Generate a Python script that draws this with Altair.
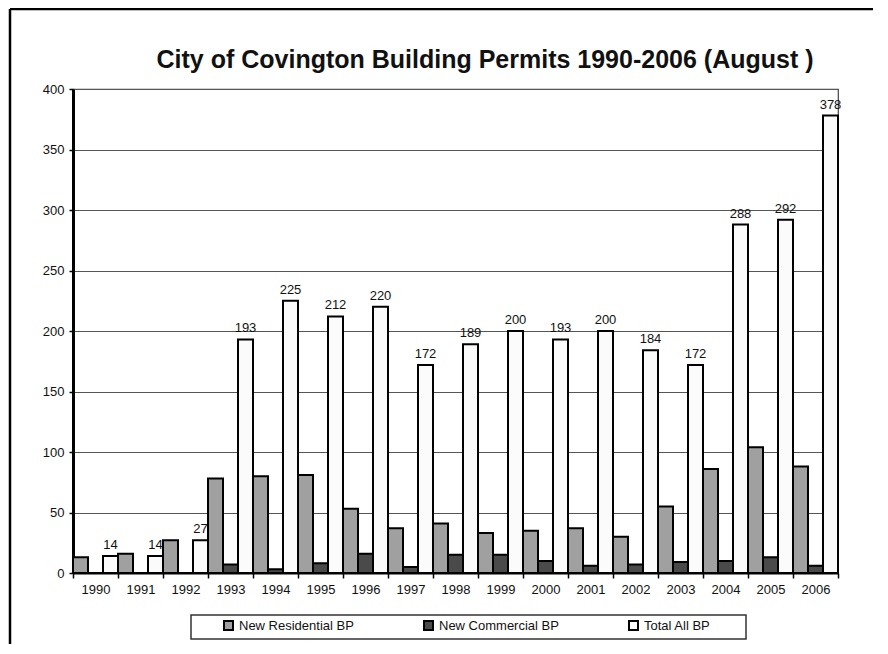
import altair as alt
import pandas as pd

years = ["1990", "1991", "1992", "1993", "1994", "1995", "1996", "1997", "1998",
         "1999", "2000", "2001", "2002", "2003", "2004", "2005", "2006"]
residential = [13, 16, 27, 78, 80, 81, 53, 37, 41, 33, 35, 37, 30, 55, 86, 104, 88]
commercial = [0, 0, 0, 7, 3, 8, 16, 5, 15, 15, 10, 6, 7, 9, 10, 13, 6]
total = [14, 14, 27, 193, 225, 212, 220, 172, 189, 200, 193, 200, 184, 172, 288, 292, 378]

series_names = ["New Residential BP", "New Commercial BP", "Total All BP"]
series_colors = ["#a0a0a0", "#4a4a4a", "#fbfbfb"]
y_ticks = [0, 50, 100, 150, 200, 250, 300, 350, 400]
title_text = "City of Covington Building Permits 1990-2006 (August )"

rows = []
for i, yr in enumerate(years):
    for name, vals in zip(series_names, [residential, commercial, total]):
        rows.append({"year": yr, "series": name, "value": vals[i]})
df = pd.DataFrame(rows)
one = pd.DataFrame({"k": [0]})

FONT = "Liberation Sans"

x_enc = alt.X(
    "year:N", sort=years,
    scale=alt.Scale(paddingInner=0, paddingOuter=0),
    axis=alt.Axis(title=None, labelAngle=0, tickBand="extent", domainColor="black",
                  domainWidth=2, tickColor="black", tickWidth=1.5, tickSize=5,
                  labelPadding=5, labelFontSize=13, labelColor="#111", grid=False),
)
xoff = alt.XOffset("series:N", sort=series_names,
                   scale=alt.Scale(domain=series_names, paddingInner=0, paddingOuter=0))
y_enc = alt.Y(
    "value:Q",
    scale=alt.Scale(domain=[0, 400], nice=False),
    axis=alt.Axis(title=None, values=y_ticks, domainColor="black", domainWidth=3,
                  tickColor="black", tickWidth=1.5, tickSize=4, labelPadding=5,
                  labelFontSize=13, labelColor="#111", grid=True, gridColor="#555",
                  gridWidth=1.2),
)

bars = alt.Chart(df).mark_bar(stroke="black", strokeWidth=2).encode(
    x=x_enc, xOffset=xoff, y=y_enc,
    color=alt.Color(
        "series:N", sort=series_names,
        scale=alt.Scale(domain=series_names, range=series_colors),
        legend=alt.Legend(title=None, orient="none", legendX=149, legendY=530,
                          direction="horizontal", symbolType="square", symbolSize=81,
                          symbolStrokeColor="black", symbolStrokeWidth=2,
                          labelFontSize=13, labelFont=FONT, labelColor="#111",
                          columnPadding=66, labelOffset=4, padding=0),
    ),
)

labels = alt.Chart(df).transform_filter(alt.datum.series == "Total All BP").mark_text(
    dy=-7, fontSize=13, font=FONT, color="#111", baseline="alphabetic"
).encode(x=x_enc, xOffset=xoff, y=alt.Y("value:Q"), text="value:Q")

title_mark = alt.Chart(one).mark_text(
    fontSize=25, font=FONT, fontWeight="bold", color="#111", align="center",
    baseline="alphabetic"
).encode(x=alt.value(412), y=alt.value(-21), text=alt.value(title_text))

legend_box = alt.Chart(one).mark_rect(filled=False, stroke="#333", strokeWidth=1.5).encode(
    x=alt.value(118), x2=alt.value(673), y=alt.value(526), y2=alt.value(550)
)
frame_left = alt.Chart(one).mark_rule(color="black", strokeWidth=2.5).encode(
    x=alt.value(-63), y=alt.value(-80), y2=alt.value(560)
)
frame_top = alt.Chart(one).mark_rule(color="black", strokeWidth=2.5).encode(
    x=alt.value(-63), x2=alt.value(800), y=alt.value(-80)
)

chart = alt.layer(frame_left, frame_top, title_mark, legend_box, bars, labels).properties(
    width=765, height=484,
    autosize=alt.AutoSizeParams(type="none"),
    padding={"left": 65, "top": 81, "right": 42, "bottom": 71},
    background="white",
).configure_view(stroke="#444", strokeWidth=1.2).configure_axis(labelFont=FONT)

chart.save("out.html", embed_options={"renderer": "svg", "actions": False})
